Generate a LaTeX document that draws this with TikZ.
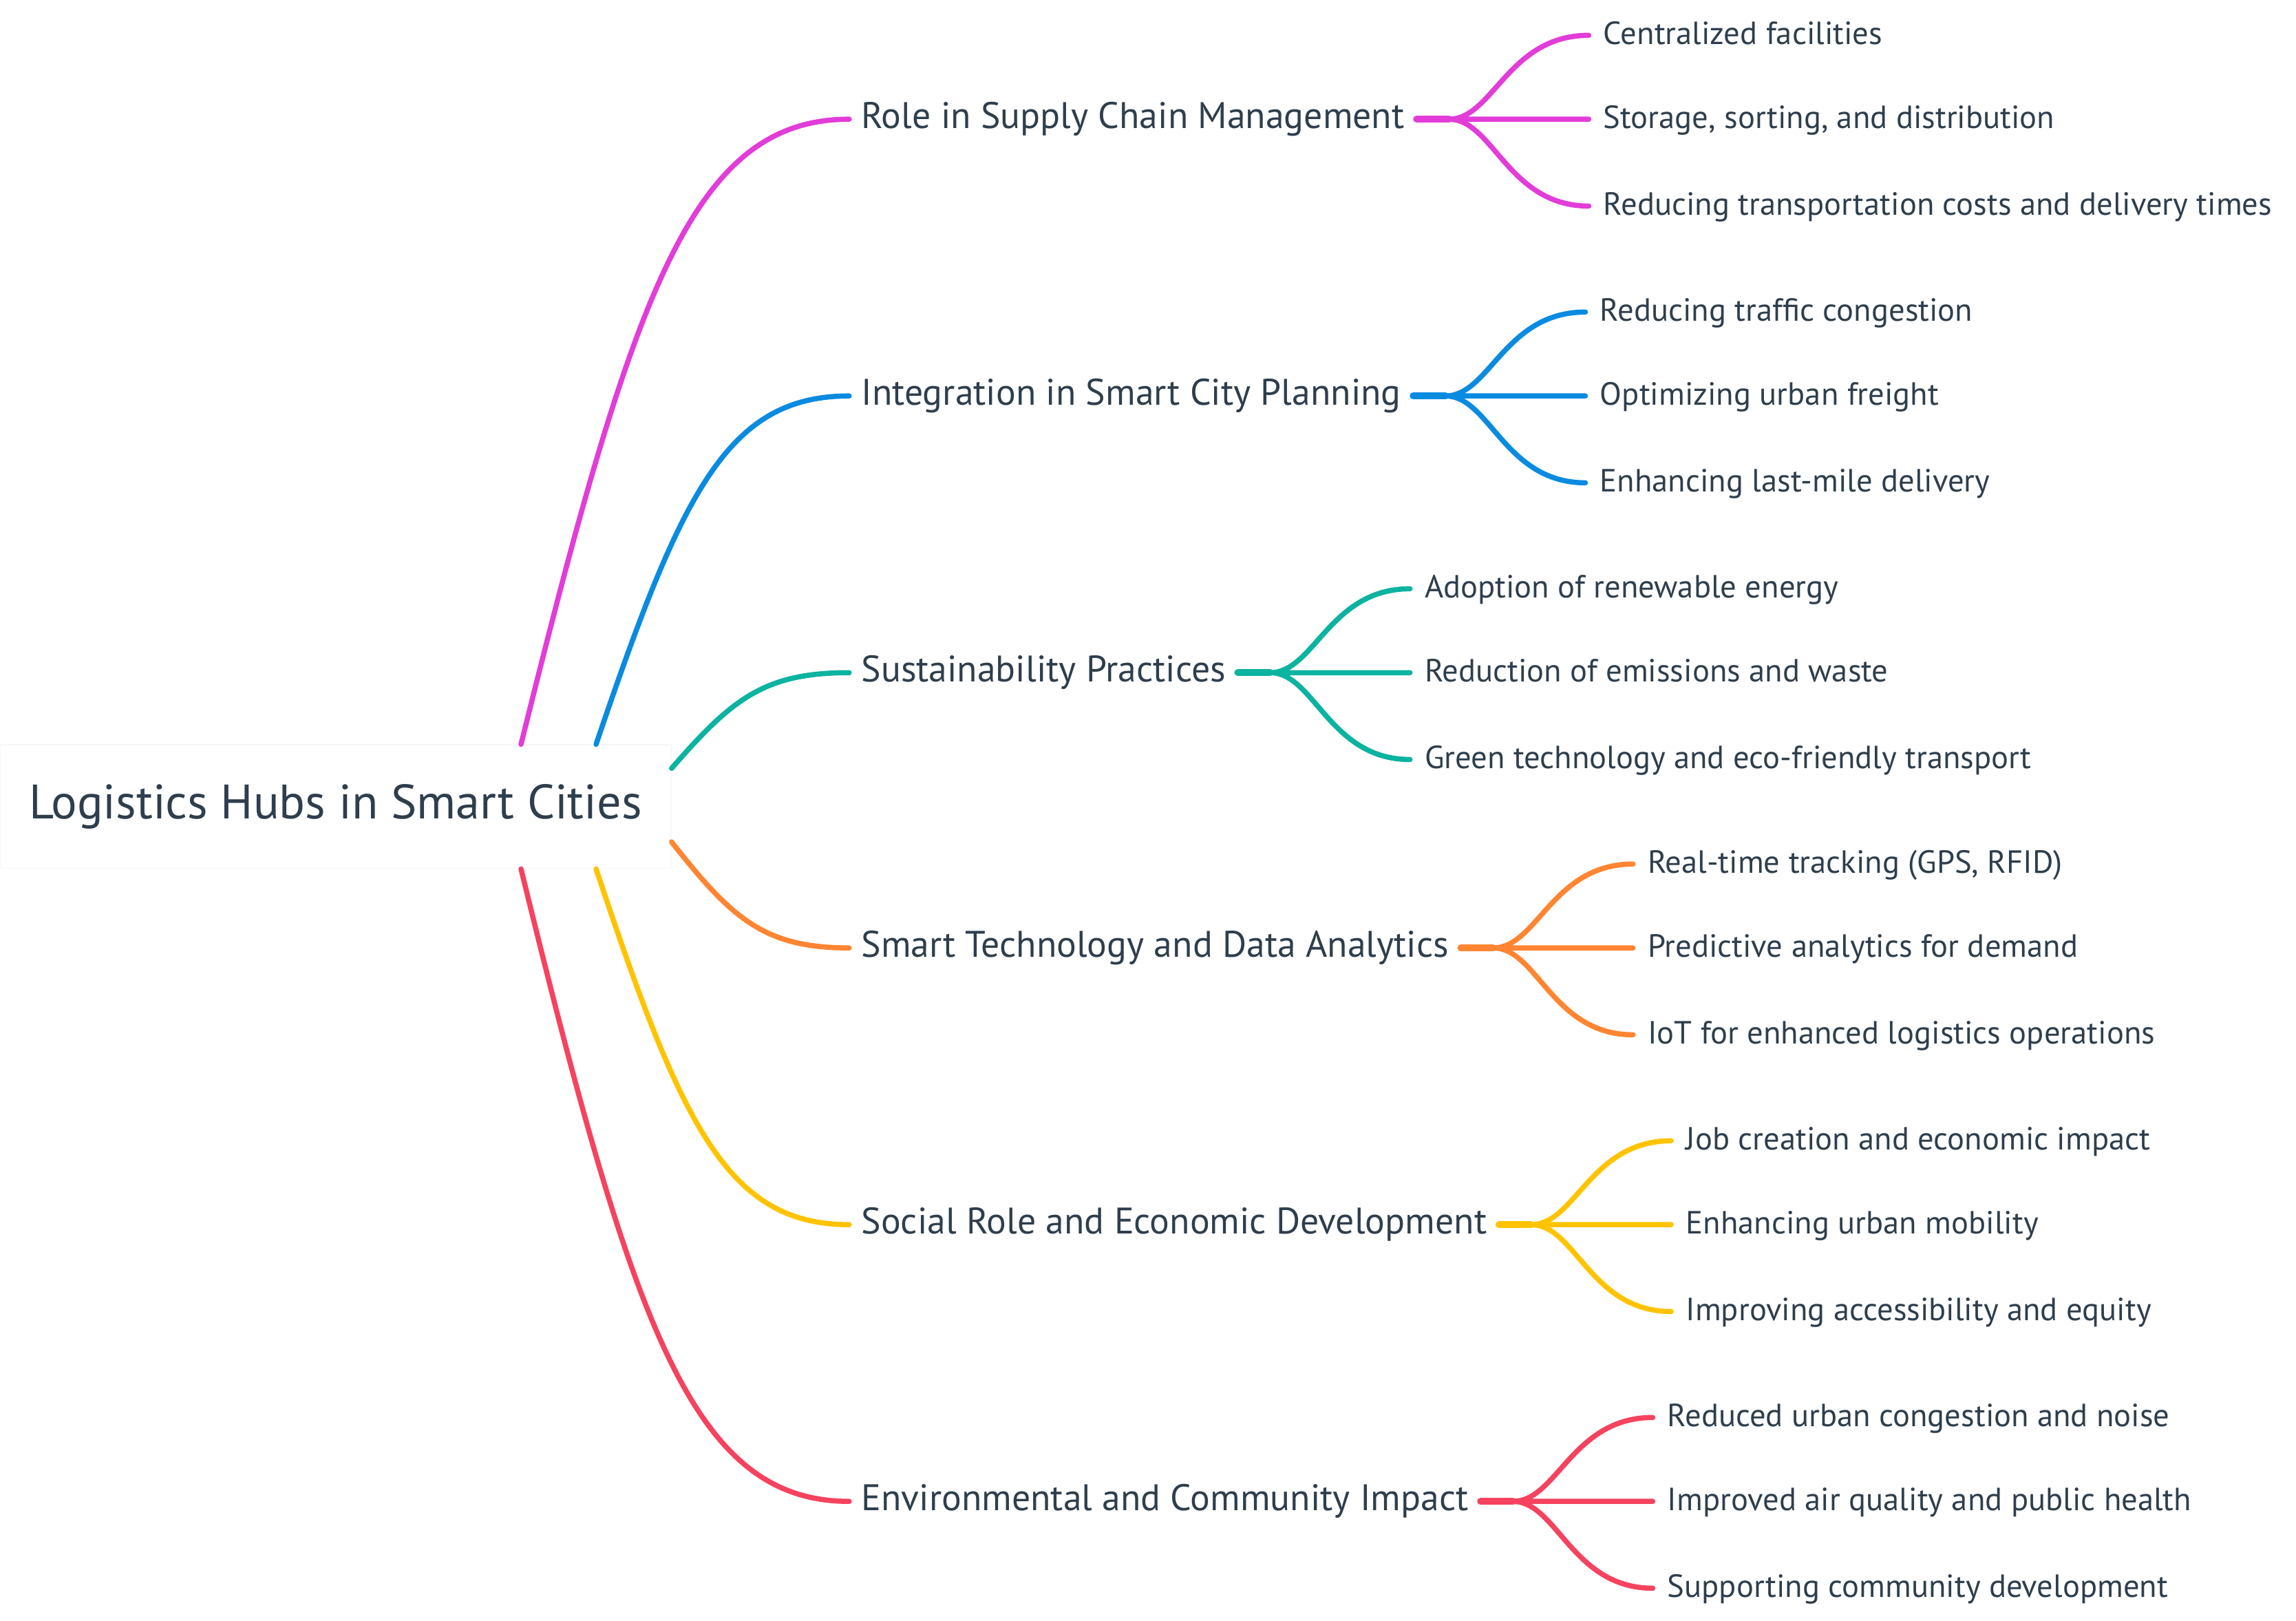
\documentclass[tikz,border=0pt]{standalone}
\usepackage{fontspec}
\setmainfont{PT Sans}
\usepackage{tikz}
\usetikzlibrary{calc, positioning}
\definecolor{txt}{HTML}{2E3E4C}
\definecolor{cmag}{HTML}{E23CD9}
\definecolor{cblu}{HTML}{0A8BE0}
\definecolor{cteal}{HTML}{0BB3A0}
\definecolor{cora}{HTML}{FF8533}
\definecolor{cyel}{HTML}{FFC300}
\definecolor{cred}{HTML}{F5435F}
\tikzstyle{hub}=[draw=black!3, fill=white, minimum width=9.12cm, minimum height=1.68cm, inner sep=0pt, text=txt, font=\fontsize{18.7}{22}\selectfont]
\tikzstyle{topic}=[anchor=west, inner xsep=4.5pt, inner ysep=0pt, text height=1.4ex, text depth=0pt, text=txt, font=\fontsize{14.3}{17}\selectfont]
\tikzstyle{leaf}=[anchor=west, inner xsep=5.5pt, inner ysep=0pt, text height=1.4ex, text depth=0pt, text=txt, font=\fontsize{12.4}{15}\selectfont]
\tikzstyle{limb}=[line width=2pt, line cap=round]
\tikzstyle{twig}=[line width=2pt, line cap=round]
\tikzstyle{stem}=[line width=2.7pt, line cap=round]

\begin{document}
\begin{tikzpicture}[x=0.02cm, y=-0.02cm]
\useasboundingbox (0,0) rectangle (1560,1101.25);
% the central topic
\node[hub] (hub) at (228,548) {Logistics Hubs in Smart Cities};
% the six main topics
\node[topic] (sc) at (577,81) {Role in Supply Chain Management};
\node[topic] (ip) at (577,269) {Integration in Smart City Planning};
\node[topic] (sp) at (577,457) {Sustainability Practices};
\node[topic] (st) at (577,644) {Smart Technology and Data Analytics};
\node[topic] (se) at (577,832) {Social Role and Economic Development};
\node[topic] (ec) at (577,1020) {Environmental and Community Impact};
% the leaves of each topic
\node[leaf] (sc1) at ($(sc.east)+(117,-57)$) {Centralized facilities};
\node[leaf] (sc2) at ($(sc.east)+(117,0)$) {Storage, sorting, and distribution};
\node[leaf] (sc3) at ($(sc.east)+(117,59)$) {Reducing transportation costs and delivery times};
\node[leaf] (ip1) at ($(ip.east)+(117,-57)$) {Reducing traffic congestion};
\node[leaf] (ip2) at ($(ip.east)+(117,0)$) {Optimizing urban freight};
\node[leaf] (ip3) at ($(ip.east)+(117,59)$) {Enhancing last-mile delivery};
\node[leaf] (sp1) at ($(sp.east)+(117,-57)$) {Adoption of renewable energy};
\node[leaf] (sp2) at ($(sp.east)+(117,0)$) {Reduction of emissions and waste};
\node[leaf] (sp3) at ($(sp.east)+(117,59)$) {Green technology and eco-friendly transport};
\node[leaf] (st1) at ($(st.east)+(117,-57)$) {Real-time tracking (GPS, RFID)};
\node[leaf] (st2) at ($(st.east)+(117,0)$) {Predictive analytics for demand};
\node[leaf] (st3) at ($(st.east)+(117,59)$) {IoT for enhanced logistics operations};
\node[leaf] (se1) at ($(se.east)+(117,-57)$) {Job creation and economic impact};
\node[leaf] (se2) at ($(se.east)+(117,0)$) {Enhancing urban mobility};
\node[leaf] (se3) at ($(se.east)+(117,59)$) {Improving accessibility and equity};
\node[leaf] (ec1) at ($(ec.east)+(117,-57)$) {Reduced urban congestion and noise};
\node[leaf] (ec2) at ($(ec.east)+(117,0)$) {Improved air quality and public health};
\node[leaf] (ec3) at ($(ec.east)+(117,59)$) {Supporting community development};
% the limbs from the central topic
\draw[limb, cmag] ($(hub.north)+(126,0)$) .. controls +(76,-306) and +(-107,0) .. (sc.west);
\draw[limb, cblu] ($(hub.north)+(177,0)$) .. controls +(58,-171) and +(-83,0) .. (ip.west);
\draw[limb, cteal] ($(hub.east)+(0,-26)$) .. controls +(41,-47) and +(-58,0) .. (sp.west);
\draw[limb, cora] ($(hub.east)+(0,24)$) .. controls +(41,52) and +(-58,0) .. (st.west);
\draw[limb, cyel] ($(hub.south)+(177,0)$) .. controls +(58,174) and +(-83,0) .. (se.west);
\draw[limb, cred] ($(hub.south)+(126,0)$) .. controls +(76,310) and +(-107,0) .. (ec.west);
% the stems
\draw[stem, cmag] (sc.east) -- ++(22,0) coordinate (scj);
\draw[stem, cblu] (ip.east) -- ++(22,0) coordinate (ipj);
\draw[stem, cteal] (sp.east) -- ++(22,0) coordinate (spj);
\draw[stem, cora] (st.east) -- ++(22,0) coordinate (stj);
\draw[stem, cyel] (se.east) -- ++(22,0) coordinate (sej);
\draw[stem, cred] (ec.east) -- ++(22,0) coordinate (ecj);
% the twigs
\draw[twig, cmag] (scj) .. controls +(30,0) and +(-55,0) .. (sc1.west) (scj) -- (sc2.west) (scj) .. controls +(30,0) and +(-55,0) .. (sc3.west);
\draw[twig, cblu] (ipj) .. controls +(30,0) and +(-55,0) .. (ip1.west) (ipj) -- (ip2.west) (ipj) .. controls +(30,0) and +(-55,0) .. (ip3.west);
\draw[twig, cteal] (spj) .. controls +(30,0) and +(-55,0) .. (sp1.west) (spj) -- (sp2.west) (spj) .. controls +(30,0) and +(-55,0) .. (sp3.west);
\draw[twig, cora] (stj) .. controls +(30,0) and +(-55,0) .. (st1.west) (stj) -- (st2.west) (stj) .. controls +(30,0) and +(-55,0) .. (st3.west);
\draw[twig, cyel] (sej) .. controls +(30,0) and +(-55,0) .. (se1.west) (sej) -- (se2.west) (sej) .. controls +(30,0) and +(-55,0) .. (se3.west);
\draw[twig, cred] (ecj) .. controls +(30,0) and +(-55,0) .. (ec1.west) (ecj) -- (ec2.west) (ecj) .. controls +(30,0) and +(-55,0) .. (ec3.west);
\end{tikzpicture}
\end{document}
